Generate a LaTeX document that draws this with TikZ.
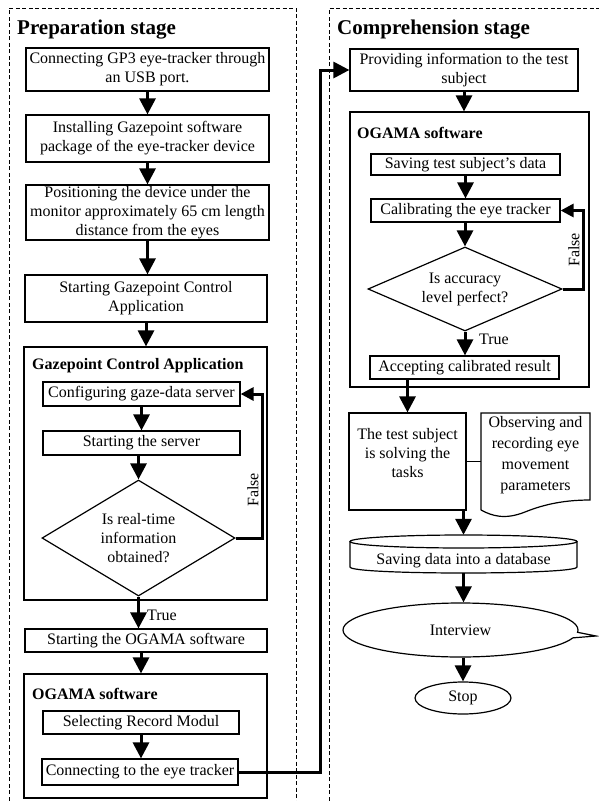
\documentclass[tikz,border=0pt]{standalone}
\usepackage{fontspec}
\setmainfont{Liberation Serif}
\usetikzlibrary{arrows.meta,shapes.geometric,shapes.callouts,calc}
\begin{document}
\begin{tikzpicture}[x=1pt,y=-1pt,
 font=\fontsize{16}{19}\selectfont,
 box/.style={draw, line width=1.2pt, inner sep=0pt, align=center},
 grp/.style={draw, line width=1.2pt, inner sep=0pt},
 ttl/.style={font=\fontsize{21}{24}\selectfont\bfseries, anchor=west, inner sep=0pt},
 sub/.style={font=\fontsize{16}{19}\selectfont\bfseries, anchor=west, inner sep=0pt},
 arr/.style={line width=3pt, -{Triangle[width=16pt,length=16pt]}},
 backarr/.style={line width=3pt, -{Triangle[width=13pt,length=13pt]}},
 stageframe/.style={line width=1pt, dash pattern=on 4pt off 2.5pt},
 lbl/.style={inner sep=0pt},
 thinline/.style={line width=1.2pt}
]
\useasboundingbox (0,0) rectangle (599,801);
% stage frames
\draw[stageframe] (9,820) -- (9,8) -- (296,8) -- (296,820);
\draw[stageframe] (329,820) -- (329,8) -- (620,8);
\node[ttl] (t1) at (17,30) {Preparation stage};
\node[ttl] (t2) at (337,30) {Comprehension stage};

% left column
\node[box, minimum width=243pt, minimum height=43pt] (b1) at (147.5,69.5) {Connecting GP3 eye-tracker through\\an USB port.};
\node[box, minimum width=243pt, minimum height=47pt] (b2) at (147.5,138.5) {Installing Gazepoint software\\package of the eye-tracker device};
\node[box, minimum width=243pt, minimum height=55pt] (b3) at (147.5,212.5) {Positioning the device under the\\monitor approximately 65 cm length\\distance from the eyes};
\node[box, minimum width=242pt, minimum height=47pt] (b4) at (146,298.5) {Starting Gazepoint Control\\Application};
\node[grp, minimum width=243pt, minimum height=253pt] (g1) at (145.5,473.5) {};
\node[sub] (g1t) at (32,366) {Gazepoint Control Application};
\node[box, minimum width=197pt, minimum height=24pt] (c1) at (141.5,394) {Configuring gaze-data server};
\node[box, minimum width=197pt, minimum height=24pt] (c2) at (141.5,443) {Starting the server};
\node[box, diamond, aspect=1.66, minimum width=193pt, minimum height=116pt] (d1) at (138.5,538) {Is real-time\\information\\obtained?};
\node[box, minimum width=242pt, minimum height=23pt] (b5) at (146,640.5) {Starting the OGAMA software};
\node[grp, minimum width=243pt, minimum height=124pt] (g2) at (145.5,736) {};
\node[sub] (g2t) at (32,694) {OGAMA software};
\node[box, minimum width=196pt, minimum height=23pt] (c3) at (141,722.5) {Selecting Record Modul};
\node[box, minimum width=196pt, minimum height=26pt] (c4) at (140,772) {Connecting to the eye tracker};

% right column
\node[box, minimum width=228pt, minimum height=42pt] (r1) at (464,70) {Providing information to the test\\subject};
\node[grp, minimum width=239pt, minimum height=275pt] (g3) at (469.5,249.5) {};
\node[sub] (g3t) at (357,133) {OGAMA software};
\node[box, minimum width=189pt, minimum height=21pt] (r2) at (465.5,164.5) {Saving test subject's data};
\node[box, minimum width=189pt, minimum height=23pt] (r3) at (465.5,210.5) {Calibrating the eye tracker};
\node[box, diamond, aspect=2.31, minimum width=194pt, minimum height=84pt] (d2) at (465,289) {Is accuracy\\level perfect?};
\node[box, minimum width=189pt, minimum height=23pt] (r4) at (464.5,367.5) {Accepting calibrated result};
\node[box, minimum width=117pt, minimum height=97pt] (test) at (407.5,461.5) {};
\node[lbl, align=center] (testt) at (407.5,453) {The test subject\\is solving the\\tasks};
\node[lbl, minimum width=109pt, minimum height=97pt] (doc) at (535.5,461.5) {};
\node[lbl, align=center, font=\fontsize{16}{21}\selectfont] (doct) at (535.5,455) {Observing and\\recording eye\\movement\\parameters};
\draw[thinline] (481,510) -- (481,413) -- (590,413) -- (590,500) .. controls (560,500) and (540,506) .. (525,512) .. controls (505,520) and (492,516) .. (481,510);
\draw[thinline] (test.east) -- (doc.west);

\node[lbl, minimum width=227pt, minimum height=38pt] (db) at (463.5,554) {};
\draw[thinline] (463.5,541.5) ellipse [x radius=113.5pt, y radius=6.5pt];
\draw[thinline] (350,541.5) -- (350,567) .. controls (350,575) and (577,575) .. (577,567) -- (577,541.5);
\node[lbl] (dbt) at (463.5,561) {Saving data into a database};

\node[draw, thinline, ellipse callout, minimum width=235pt, minimum height=54pt, inner sep=0pt, callout absolute pointer={(596,636)}, callout pointer arc=12] (intv) at (460.5,630) {Interview};
\node[draw, thinline, ellipse, minimum width=96pt, minimum height=32pt, inner sep=0pt] (stop) at (463,698) {Stop};

% left connectors
\draw[arr] (b1.south) -- (b2.north);
\draw[arr] (b2.south) -- (b3.north);
\draw[arr] (b3.south) -- (b3.south |- b4.north);
\draw[arr] (b4.south) -- (b4.south |- g1.north);
\draw[arr] (c1.south) -- (c2.north);
\draw[arr] (c2.south -| d1.north) -- (d1.north);
\coordinate (lp1) at (262,394);
\draw[backarr] (d1.east) -| (lp1) -- (c1.east);
\node[lbl, rotate=90] (fl1) at (253,490) {False};
\draw[arr] (d1.south) -- (d1.south |- b5.north);
\node[lbl, anchor=west] (tl1) at (147,615) {True};
\draw[arr] (c3.north |- b5.south) -- (c3.north |- g2.north);
\draw[arr] (c3.south) -- (c3.south |- c4.north);
\coordinate (lk) at (320,772);
\draw[arr] (c4.east) -- (lk) |- (r1.west);

% right connectors
\draw[arr] (r1.south) -- (r1.south |- g3.north);
\draw[arr] (r2.south) -- (r3.north);
\draw[arr] (r3.south -| d2.north) -- (d2.north);
\coordinate (lp2) at (583,210.5);
\draw[backarr] (d2.east) -| (lp2) -- (r3.east);
\node[lbl, rotate=90] (fl2) at (574,250) {False};
\draw[arr] (d2.south) -- (d2.south |- r4.north);
\node[lbl, anchor=west] (tl2) at (479,339) {True};
\draw[arr] (r4.south -| test.north) -- (test.north);
\draw[arr] (test.south -| db.north) -- (db.north);
\draw[arr] (db.south) -- (db.south |- intv.north);
\draw[arr] (intv.south -| stop.north) -- (stop.north);
\end{tikzpicture}
\end{document}
